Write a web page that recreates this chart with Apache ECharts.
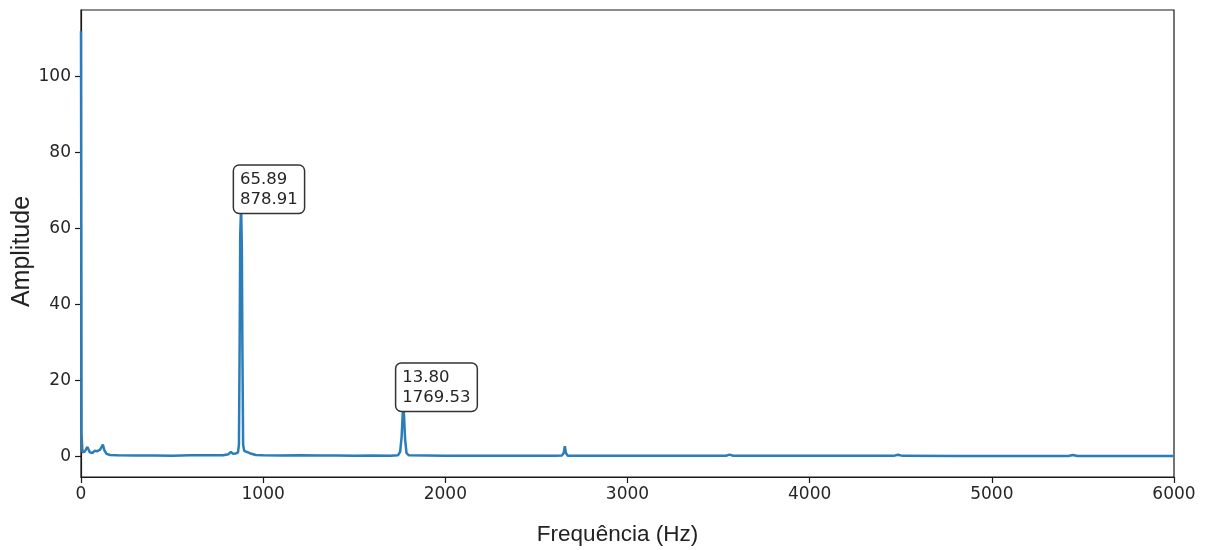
<!DOCTYPE html>
<html>
<head>
<meta charset="utf-8">
<script src="https://cdn.jsdelivr.net/npm/echarts@6/dist/echarts.min.js"></script>
<style>
  html, body { margin: 0; padding: 0; background: #fff; }
  #chart { width: 1207px; height: 550px; }
</style>
</head>
<body>
<div id="chart"></div>
<script>
// espectro (Hz, amplitude)
const freqs = [
  0, 3, 8, 20, 35, 48, 62, 75, 90, 105, 113, 120, 128, 140, 160, 200,
  300, 400, 500, 600, 700, 780, 810, 823, 835, 850, 862, 867, 871, 874, 878.91, 883, 886, 890, 896,
  905, 920, 935, 960, 1000, 1100, 1200, 1300, 1400, 1500, 1600, 1700, 1740,
  1752, 1760, 1765, 1769.53, 1774, 1779, 1787, 1800, 1900, 2000, 2200, 2400, 2600, 2640,
  2650, 2656, 2662, 2672, 2800, 3000, 3200, 3400, 3540, 3560, 3580, 3800, 4000, 4200,
  4460, 4485, 4510, 4800, 5000, 5200, 5420, 5445, 5470, 5700, 6000
];
const amps = [
  111.8, 6.0, 1.0, 1.2, 2.4, 1.0, 0.8, 1.4, 1.3, 1.7, 1.9, 3.0, 1.6, 0.6, 0.3, 0.2,
  0.15, 0.15, 0.1, 0.2, 0.25, 0.2, 0.5, 1.1, 0.6, 0.7, 1.0, 3.0, 30.0, 58.0, 65.89, 55.0, 28.0, 3.0, 1.4,
  1.1, 0.9, 0.6, 0.3, 0.2, 0.15, 0.2, 0.15, 0.15, 0.1, 0.15, 0.1, 0.2,
  1.2, 5.0, 10.0, 13.8, 10.0, 4.5, 0.8, 0.2, 0.15, 0.1, 0.1, 0.1, 0.1, 0.15,
  0.8, 2.6, 0.8, 0.1, 0.08, 0.08, 0.08, 0.08, 0.08, 0.4, 0.08, 0.06, 0.06, 0.06,
  0.06, 0.35, 0.06, 0.05, 0.05, 0.05, 0.05, 0.3, 0.05, 0.05, 0.05
];
// picos anotados
const peakFreqs = [878.91, 1769.53];
const peakAmps = [65.89, 13.80];
const yTicks = [0, 20, 40, 60, 80, 100];

const chart = echarts.init(document.getElementById('chart'));
const tickFont = { fontFamily: 'DejaVu Sans', fontSize: 17, color: '#262626' };

chart.setOption({
  animation: false,
  grid: {
    left: 81, right: 33, top: 10, bottom: 73,
    outerBoundsMode: 'none', containLabel: false,
    show: true, borderColor: '#1a1a1a', borderWidth: 1.2, backgroundColor: 'transparent'
  },
  xAxis: {
    type: 'value', min: 0, max: 6000, interval: 1000,
    name: 'Frequência (Hz)', nameLocation: 'middle', nameGap: 46, nameMoveOverlap: false,
    nameTextStyle: { fontFamily: 'Liberation Sans', fontSize: 22.5, color: '#222', padding: [0, 20, 0, 0] },
    axisLine: { show: true, onZero: false, lineStyle: { color: '#1a1a1a', width: 1.2 } },
    axisTick: { show: true, length: 6, lineStyle: { color: '#1a1a1a', width: 1.2 } },
    axisLabel: Object.assign({ margin: 9, formatter: v => String(v) }, tickFont),
    splitLine: { show: false }
  },
  yAxis: {
    type: 'value', min: -5.5, max: 117.4,
    name: 'Amplitude', nameLocation: 'middle', nameGap: 46, nameMoveOverlap: false,
    nameTextStyle: { fontFamily: 'Liberation Sans', fontSize: 25, color: '#222', padding: [0, 16, 0, 0] },
    axisLine: { show: true, onZero: false, lineStyle: { color: '#1a1a1a', width: 1.2 } },
    axisTick: { show: true, length: 6, customValues: yTicks, lineStyle: { color: '#1a1a1a', width: 1.2 } },
    axisLabel: Object.assign({ margin: 10, customValues: yTicks, formatter: v => String(v) }, tickFont),
    splitLine: { show: false }
  },
  series: [{
    type: 'line',
    data: freqs.map((f, i) => [f, amps[i]]),
    showSymbol: false,
    lineStyle: { color: '#2a7db8', width: 2.5 },
    itemStyle: { color: '#2a7db8' },
    markPoint: {
      symbol: 'circle',
      symbolSize: 0,
      data: peakFreqs.map((f, i) => ({ coord: [f, peakAmps[i]], value: peakAmps[i].toFixed(2) + '\n' + f.toFixed(2) })),
      label: {
        show: true,
        position: [0, 0],
        align: 'left',
        verticalAlign: 'bottom',
        offset: [-7, 7],
        formatter: p => p.value,
        fontFamily: 'DejaVu Sans',
        fontSize: 16.5,
        lineHeight: 20,
        color: '#262626',
        backgroundColor: '#fff',
        borderColor: '#333',
        borderWidth: 1.5,
        borderRadius: 5,
        padding: [4, 6, 3, 6]
      }
    }
  }]
});
</script>
</body>
</html>
